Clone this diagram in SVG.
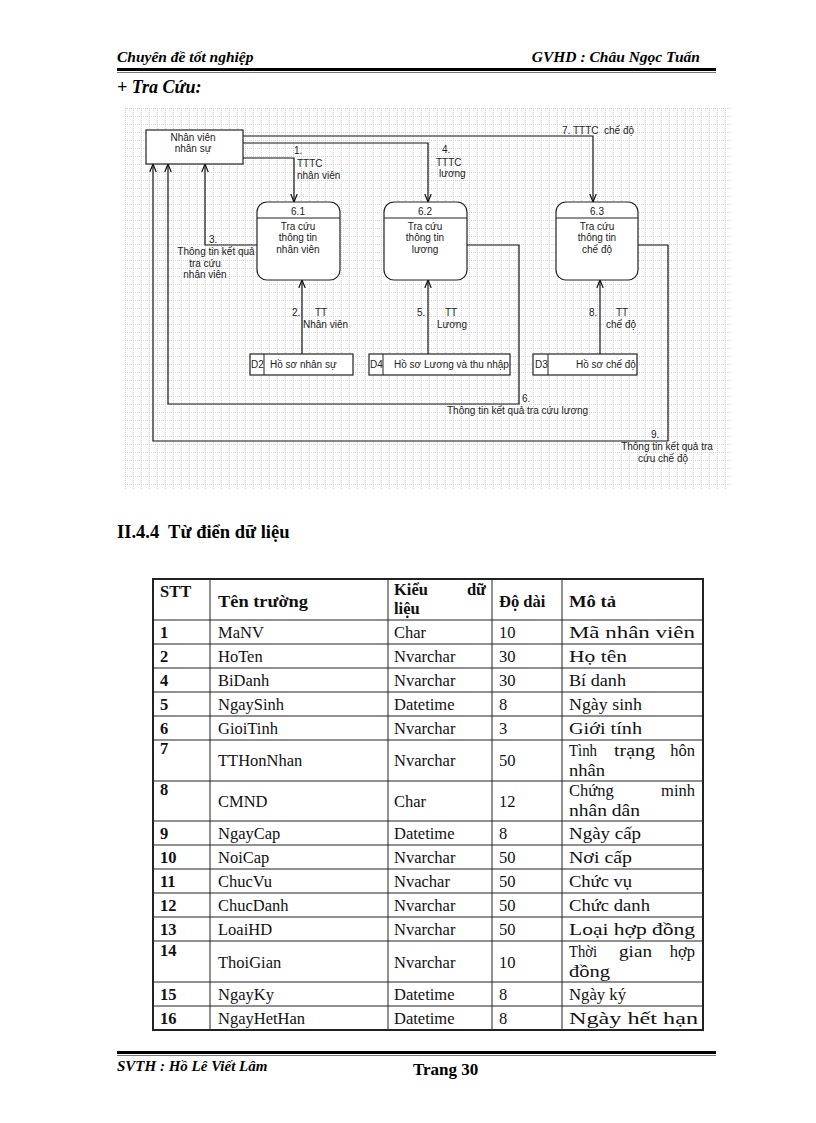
<svg xmlns="http://www.w3.org/2000/svg" width="816" height="1123" viewBox="0 0 816 1123">
<style>
.hd{font-family:"Liberation Serif",serif;font-weight:bold;font-style:italic;fill:#000}
.dg{font-family:"Liberation Sans",Arial,sans-serif;font-size:10px;fill:#222}
.dgc{font-family:"Liberation Sans",Arial,sans-serif;font-size:10px;fill:#222;text-anchor:middle}
.ln{fill:none;stroke:#111;stroke-width:1.2}
.box{fill:#fff;stroke:#222;stroke-width:1.2}
.tb{font-family:"Liberation Serif","Times New Roman",serif;font-size:16.5px;fill:#111}
.tbb{font-family:"Liberation Serif","Times New Roman",serif;font-size:16.5px;font-weight:bold;fill:#111}
.grid{stroke:#222;stroke-width:1}
</style>
<defs>
<pattern id="gp" x="125" y="108" width="8" height="8" patternUnits="userSpaceOnUse">
<path d="M0,0.5 H8 M0.5,0 V8" fill="none" stroke="#d4ccd4" stroke-width="1" stroke-dasharray="1,1"/>
</pattern>
<marker id="ar" markerUnits="userSpaceOnUse" markerWidth="8" markerHeight="8" viewBox="0 0 8 8" refX="8" refY="4" orient="auto">
<path d="M0,0.8 L8,4 L0,7.2" fill="none" stroke="#111" stroke-width="1.2"/>
</marker>
<clipPath id="c2"><rect x="264" y="354" width="89" height="21"/></clipPath>
<clipPath id="c4"><rect x="383" y="354" width="127" height="21"/></clipPath>
<clipPath id="c3"><rect x="548" y="354" width="89" height="21"/></clipPath>
</defs>

<g id="header">
<text class="hd" x="117" y="62" font-size="15.5">Chuyên đề tốt nghiệp</text>
<text class="hd" x="700" y="62" font-size="15.5" text-anchor="end">GVHD : Châu Ngọc Tuấn</text>
<line x1="117" y1="69.5" x2="716" y2="69.5" stroke="#000" stroke-width="3"/>
<line x1="117" y1="72.5" x2="716" y2="72.5" stroke="#777" stroke-width="1"/>
<text class="hd" x="117" y="93" font-size="18">+ Tra Cứu:</text>
</g>

<rect x="125" y="108" width="605" height="382" fill="url(#gp)"/>

<g id="connectors">
<path id="f1" class="ln" d="M243,158 H294 V202" marker-end="url(#ar)"/>
<path id="f4" class="ln" d="M243,143 H428 V202" marker-end="url(#ar)"/>
<path id="f7" class="ln" d="M243,136 H593 V202" marker-end="url(#ar)"/>
<path id="f3" class="ln" d="M257,245 H205 V164" marker-end="url(#ar)"/>
<path id="f2" class="ln" d="M302,354 V280" marker-end="url(#ar)"/>
<path id="f5" class="ln" d="M428,354 V280" marker-end="url(#ar)"/>
<path id="f8" class="ln" d="M600,354 V280" marker-end="url(#ar)"/>
<path id="f6" class="ln" d="M467,245 H519 V404 H168 V164" marker-end="url(#ar)"/>
<path id="f9" class="ln" d="M638,245 H668 V441 H153 V164" marker-end="url(#ar)"/>
<text class="dg" x="294" y="154">1.</text>
<text class="dg" x="297" y="167">TTTC</text>
<text class="dg" x="297" y="179">nhân viên</text>
<text class="dg" x="442" y="153">4.</text>
<text class="dg" x="436" y="166">TTTC</text>
<text class="dg" x="439" y="177">lương</text>
<text class="dg" x="562" y="134" xml:space="preserve">7. TTTC  chế độ</text>
<text class="dg" x="209" y="243">3.</text>
<text class="dgc" x="216" y="255">Thông tin kết quả</text>
<text class="dgc" x="205" y="267">tra cứu</text>
<text class="dgc" x="205" y="278">nhân viên</text>
<text class="dg" x="292" y="316">2.</text>
<text class="dg" x="315" y="316">TT</text>
<text class="dg" x="303" y="328">Nhân viên</text>
<text class="dg" x="417" y="316">5.</text>
<text class="dg" x="445" y="316">TT</text>
<text class="dg" x="437" y="328">Lương</text>
<text class="dg" x="589" y="316">8.</text>
<text class="dg" x="616" y="316">TT</text>
<text class="dg" x="606" y="328">chế độ</text>
<text class="dg" x="522" y="402">6.</text>
<text class="dg" x="447" y="414">Thông tin kết quả tra cứu lương</text>
<text class="dg" x="651" y="438">9.</text>
<text class="dgc" x="667" y="450">Thông tin kết quả tra</text>
<text class="dgc" x="663" y="462">cứu chế độ</text>
</g>

<g id="nhanvien">
<rect class="box" x="146" y="130" width="97" height="34"/>
<text class="dgc" x="193" y="141">Nhân viên</text>
<text class="dgc" x="193" y="152">nhân sự</text>
</g>

<g id="p61">
<rect class="box" x="257" y="202" width="83" height="78" rx="10"/>
<line class="grid" x1="257" y1="218" x2="340" y2="218"/>
<text class="dgc" x="298" y="215">6.1</text>
<text class="dgc" x="298" y="230">Tra cứu</text>
<text class="dgc" x="298" y="241">thông tin</text>
<text class="dgc" x="298" y="253">nhân viên</text>
</g>

<g id="p62">
<rect class="box" x="384" y="202" width="83" height="78" rx="10"/>
<line class="grid" x1="384" y1="218" x2="467" y2="218"/>
<text class="dgc" x="425" y="215">6.2</text>
<text class="dgc" x="425" y="230">Tra cứu</text>
<text class="dgc" x="425" y="241">thông tin</text>
<text class="dgc" x="425" y="253">lương</text>
</g>

<g id="p63">
<rect class="box" x="556" y="202" width="82" height="78" rx="10"/>
<line class="grid" x1="556" y1="218" x2="638" y2="218"/>
<text class="dgc" x="597" y="215">6.3</text>
<text class="dgc" x="597" y="230">Tra cứu</text>
<text class="dgc" x="597" y="241">thông tin</text>
<text class="dgc" x="597" y="253">chế độ</text>
</g>

<g id="d2">
<rect class="box" x="250" y="354" width="103" height="21"/>
<line class="grid" x1="264" y1="354" x2="264" y2="375"/>
<text class="dg" x="251" y="368">D2</text>
<text class="dg" x="270" y="368" clip-path="url(#c2)">Hồ sơ nhân sự</text>
</g>

<g id="d4">
<rect class="box" x="369" y="354" width="141" height="21"/>
<line class="grid" x1="383" y1="354" x2="383" y2="375"/>
<text class="dg" x="370" y="368">D4</text>
<text class="dg" x="394" y="368" clip-path="url(#c4)">Hồ sơ Lương và thu nhập</text>
</g>

<g id="d3">
<rect class="box" x="533" y="354" width="104" height="21"/>
<line class="grid" x1="548" y1="354" x2="548" y2="375"/>
<text class="dg" x="535" y="368">D3</text>
<text class="dg" x="576" y="368" clip-path="url(#c3)">Hồ sơ chế độ</text>
</g>

<g id="section">
<text x="117" y="538" font-family="Liberation Serif,serif" font-weight="bold" font-size="18.5" fill="#000">II.4.4&#160; Từ điển dữ liệu</text>
</g>

<g id="table">
<g stroke="#222" stroke-width="1" fill="none">
<path d="M153,620 H703 M153,644 H703 M153,668 H703 M153,692 H703 M153,716 H703 M153,740 H703 M153,781 H703 M153,821 H703 M153,845 H703 M153,869 H703 M153,893 H703 M153,917 H703 M153,941 H703 M153,982 H703 M153,1006 H703"/>
<path d="M210,579 V1030 M388,579 V1030 M492,579 V1030 M562,579 V1030"/>
<rect x="153" y="579" width="550" height="451" stroke-width="2"/>
</g>
<text class="tbb" x="160" y="597">STT</text>
<text class="tbb" x="218" y="607" textLength="90" lengthAdjust="spacingAndGlyphs">Tên trường</text>
<text class="tbb" x="394" y="595">Kiểu</text>
<text class="tbb" x="486" y="595" text-anchor="end">dữ</text>
<text class="tbb" x="394" y="614">liệu</text>
<text class="tbb" x="499" y="607">Độ dài</text>
<text class="tbb" x="569" y="607" textLength="47" lengthAdjust="spacingAndGlyphs">Mô tả</text>

<text class="tbb" x="160" y="638">1</text><text class="tb" x="218" y="638">MaNV</text><text class="tb" x="394" y="638">Char</text><text class="tb" x="499" y="638">10</text><text class="tb" x="569" y="638" textLength="126" lengthAdjust="spacingAndGlyphs">Mã nhân viên</text>
<text class="tbb" x="160" y="662">2</text><text class="tb" x="218" y="662">HoTen</text><text class="tb" x="394" y="662">Nvarchar</text><text class="tb" x="499" y="662">30</text><text class="tb" x="569" y="662" textLength="58" lengthAdjust="spacingAndGlyphs">Họ tên</text>
<text class="tbb" x="160" y="686">4</text><text class="tb" x="218" y="686">BiDanh</text><text class="tb" x="394" y="686">Nvarchar</text><text class="tb" x="499" y="686">30</text><text class="tb" x="569" y="686" textLength="57" lengthAdjust="spacingAndGlyphs">Bí danh</text>
<text class="tbb" x="160" y="710">5</text><text class="tb" x="218" y="710">NgaySinh</text><text class="tb" x="394" y="710">Datetime</text><text class="tb" x="499" y="710">8</text><text class="tb" x="569" y="710" textLength="73" lengthAdjust="spacingAndGlyphs">Ngày sinh</text>
<text class="tbb" x="160" y="734">6</text><text class="tb" x="218" y="734">GioiTinh</text><text class="tb" x="394" y="734">Nvarchar</text><text class="tb" x="499" y="734">3</text><text class="tb" x="569" y="734" textLength="73" lengthAdjust="spacingAndGlyphs">Giới tính</text>
<text class="tbb" x="160" y="754">7</text><text class="tb" x="218" y="766">TTHonNhan</text><text class="tb" x="394" y="766">Nvarchar</text><text class="tb" x="499" y="766">50</text>
<text class="tb" x="569" y="756" textLength="28" lengthAdjust="spacingAndGlyphs">Tình</text><text class="tb" x="614" y="756" textLength="41" lengthAdjust="spacingAndGlyphs">trạng</text><text class="tb" x="695" y="756" text-anchor="end">hôn</text>
<text class="tb" x="569" y="776" textLength="36" lengthAdjust="spacingAndGlyphs">nhân</text>
<text class="tbb" x="160" y="795">8</text><text class="tb" x="218" y="807">CMND</text><text class="tb" x="394" y="807">Char</text><text class="tb" x="499" y="807">12</text><text class="tb" x="569" y="796">Chứng</text><text class="tb" x="695" y="796" text-anchor="end">minh</text><text class="tb" x="569" y="816" textLength="71" lengthAdjust="spacingAndGlyphs">nhân dân</text>
<text class="tbb" x="160" y="839">9</text><text class="tb" x="218" y="839">NgayCap</text><text class="tb" x="394" y="839">Datetime</text><text class="tb" x="499" y="839">8</text><text class="tb" x="569" y="839" textLength="72" lengthAdjust="spacingAndGlyphs">Ngày cấp</text>
<text class="tbb" x="160" y="863">10</text><text class="tb" x="218" y="863">NoiCap</text><text class="tb" x="394" y="863">Nvarchar</text><text class="tb" x="499" y="863">50</text><text class="tb" x="569" y="863" textLength="63" lengthAdjust="spacingAndGlyphs">Nơi cấp</text>
<text class="tbb" x="160" y="887">11</text><text class="tb" x="218" y="887">ChucVu</text><text class="tb" x="394" y="887">Nvachar</text><text class="tb" x="499" y="887">50</text><text class="tb" x="569" y="887" textLength="63" lengthAdjust="spacingAndGlyphs">Chức vụ</text>
<text class="tbb" x="160" y="911">12</text><text class="tb" x="218" y="911">ChucDanh</text><text class="tb" x="394" y="911">Nvarchar</text><text class="tb" x="499" y="911">50</text><text class="tb" x="569" y="911" textLength="81" lengthAdjust="spacingAndGlyphs">Chức danh</text>
<text class="tbb" x="160" y="935">13</text><text class="tb" x="218" y="935">LoaiHD</text><text class="tb" x="394" y="935">Nvarchar</text><text class="tb" x="499" y="935">50</text><text class="tb" x="569" y="935" textLength="126" lengthAdjust="spacingAndGlyphs">Loại hợp đồng</text>
<text class="tbb" x="160" y="956">14</text><text class="tb" x="218" y="968">ThoiGian</text><text class="tb" x="394" y="968">Nvarchar</text><text class="tb" x="499" y="968">10</text>
<text class="tb" x="569" y="957" textLength="28" lengthAdjust="spacingAndGlyphs">Thời</text><text class="tb" x="619" y="957" textLength="33" lengthAdjust="spacingAndGlyphs">gian</text><text class="tb" x="695" y="957" text-anchor="end">hợp</text>
<text class="tb" x="569" y="977" textLength="41" lengthAdjust="spacingAndGlyphs">đồng</text>
<text class="tbb" x="160" y="1000">15</text><text class="tb" x="218" y="1000">NgayKy</text><text class="tb" x="394" y="1000">Datetime</text><text class="tb" x="499" y="1000">8</text><text class="tb" x="569" y="1000" textLength="57" lengthAdjust="spacingAndGlyphs">Ngày ký</text>
<text class="tbb" x="160" y="1024">16</text><text class="tb" x="218" y="1024">NgayHetHan</text><text class="tb" x="394" y="1024">Datetime</text><text class="tb" x="499" y="1024">8</text><text class="tb" x="569" y="1024" textLength="129" lengthAdjust="spacingAndGlyphs">Ngày hết hạn</text>
</g>

<g id="footer">
<line x1="117" y1="1052.5" x2="716" y2="1052.5" stroke="#000" stroke-width="3"/>
<line x1="117" y1="1055.5" x2="716" y2="1055.5" stroke="#777" stroke-width="1"/>
<text class="hd" x="117" y="1071" font-size="15">SVTH : Hồ Lê Viết Lâm</text>
<text x="413" y="1075" font-family="Liberation Serif,serif" font-weight="bold" font-size="17" fill="#000">Trang 30</text>
</g>
</svg>
